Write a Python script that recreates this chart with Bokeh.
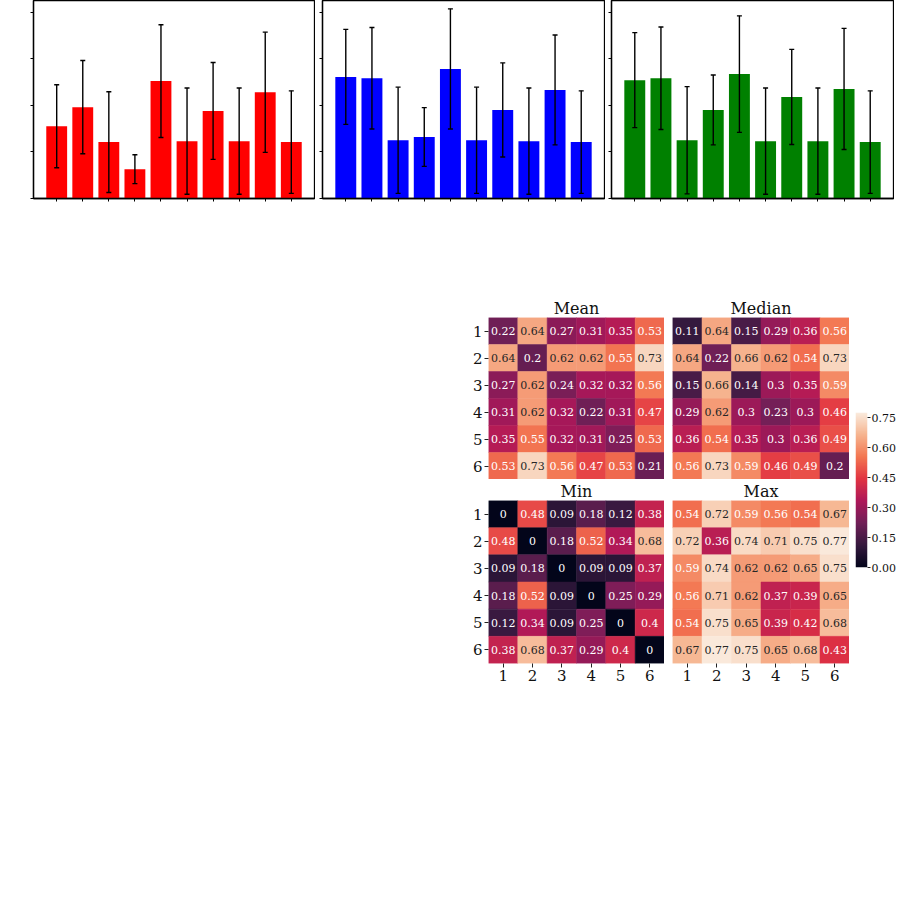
import numpy as np
from bokeh.plotting import figure
from bokeh.models import (Range1d, FactorRange, FixedTicker, Whisker, TeeHead,
                          ColumnDataSource, LinearColorMapper, Spacer,
                          NumeralTickFormatter, CustomJSTickFormatter)
from bokeh.layouts import row, column
from bokeh.embed import file_html
from bokeh.resources import INLINE
from bokeh.core.properties import value

# ---------------- data ----------------
bar_x = list(range(10))
red_mean = [1.55, 1.96, 1.21, 0.63, 2.52, 1.23, 1.88, 1.23, 2.28, 1.21]
red_std = [0.89, 1.00, 1.08, 0.31, 1.21, 1.14, 1.04, 1.14, 1.29, 1.10]
blue_mean = [2.61, 2.58, 1.25, 1.32, 2.78, 1.25, 1.90, 1.23, 2.33, 1.21]
blue_std = [1.02, 1.09, 1.14, 0.63, 1.29, 1.14, 1.01, 1.14, 1.18, 1.10]
green_mean = [2.54, 2.58, 1.25, 1.90, 2.67, 1.23, 2.18, 1.23, 2.35, 1.21]
green_std = [1.02, 1.10, 1.15, 0.75, 1.25, 1.14, 1.02, 1.14, 1.30, 1.10]
bar_yticks = [0, 1, 2, 3, 4]

hm_labels = ["1", "2", "3", "4", "5", "6"]
mean_m = [[0.22, 0.64, 0.27, 0.31, 0.35, 0.53],
          [0.64, 0.2, 0.62, 0.62, 0.55, 0.73],
          [0.27, 0.62, 0.24, 0.32, 0.32, 0.56],
          [0.31, 0.62, 0.32, 0.22, 0.31, 0.47],
          [0.35, 0.55, 0.32, 0.31, 0.25, 0.53],
          [0.53, 0.73, 0.56, 0.47, 0.53, 0.21]]
median_m = [[0.11, 0.64, 0.15, 0.29, 0.36, 0.56],
            [0.64, 0.22, 0.66, 0.62, 0.54, 0.73],
            [0.15, 0.66, 0.14, 0.3, 0.35, 0.59],
            [0.29, 0.62, 0.3, 0.23, 0.3, 0.46],
            [0.36, 0.54, 0.35, 0.3, 0.36, 0.49],
            [0.56, 0.73, 0.59, 0.46, 0.49, 0.2]]
min_m = [[0, 0.48, 0.09, 0.18, 0.12, 0.38],
         [0.48, 0, 0.18, 0.52, 0.34, 0.68],
         [0.09, 0.18, 0, 0.09, 0.09, 0.37],
         [0.18, 0.52, 0.09, 0, 0.25, 0.29],
         [0.12, 0.34, 0.09, 0.25, 0, 0.4],
         [0.38, 0.68, 0.37, 0.29, 0.4, 0]]
max_m = [[0.54, 0.72, 0.59, 0.56, 0.54, 0.67],
         [0.72, 0.36, 0.74, 0.71, 0.75, 0.77],
         [0.59, 0.74, 0.62, 0.62, 0.65, 0.75],
         [0.56, 0.71, 0.62, 0.37, 0.39, 0.65],
         [0.54, 0.75, 0.65, 0.39, 0.42, 0.68],
         [0.67, 0.77, 0.75, 0.65, 0.68, 0.43]]
cbar_ticks = [0.0, 0.15, 0.30, 0.45, 0.60, 0.75]
c_low, c_high = 0.0, 0.775

SERIF = "DejaVu Serif"

# ---------------- rocket palette ----------------
anchors = [(0.0, (3, 5, 26)), (1/7, (53, 25, 62)), (2/7, (112, 31, 87)),
           (3/7, (173, 23, 89)), (4/7, (225, 51, 66)), (5/7, (243, 118, 81)),
           (6/7, (246, 180, 143)), (1.0, (250, 235, 221))]
pal_rgb = []
for k in range(256):
    t = k / 255
    for a in range(len(anchors) - 1):
        t0, c0 = anchors[a]
        t1, c1 = anchors[a + 1]
        if t0 <= t <= t1:
            f = (t - t0) / (t1 - t0)
            pal_rgb.append(tuple(int(round(c0[i] + f * (c1[i] - c0[i]))) for i in range(3)))
            break
palette = ["#%02x%02x%02x" % c for c in pal_rgb]
mapper = LinearColorMapper(palette=palette, low=c_low, high=c_high)


def lum(rgb):
    out = []
    for c in rgb:
        c = c / 255
        out.append(c / 12.92 if c <= 0.03928 else ((c + 0.055) / 1.055) ** 2.4)
    return 0.2126 * out[0] + 0.7152 * out[1] + 0.0722 * out[2]


def text_color(v):
    idx = int((v - c_low) / (c_high - c_low) * 256)
    idx = max(0, min(255, idx))
    return "#262626" if lum(pal_rgb[idx]) > 0.408 else "#ffffff"


blank = CustomJSTickFormatter(code="return ''")


# ---------------- bar charts ----------------
def bar_chart(means, stds, color, left, right, fw):
    p = figure(frame_width=fw, frame_height=198,
               x_range=Range1d(-0.89, 9.89), y_range=Range1d(0, 4.249),
               output_backend="svg", toolbar_location=None,
               min_border_left=left, min_border_right=right,
               min_border_top=0, min_border_bottom=10)
    src = ColumnDataSource(dict(x=bar_x, top=means,
                                upper=[m + s for m, s in zip(means, stds)],
                                lower=[m - s for m, s in zip(means, stds)]))
    p.vbar(x="x", top="top", width=0.8, fill_color=color, line_color=None, source=src)
    w = Whisker(source=src, base="x", upper="upper", lower="lower",
                line_color="black", line_width=1.4, level="overlay",
                upper_head=TeeHead(size=5, line_width=1.4, line_color="black"),
                lower_head=TeeHead(size=5, line_width=1.4, line_color="black"))
    p.add_layout(w)
    p.xaxis.ticker = FixedTicker(ticks=bar_x)
    p.yaxis.ticker = FixedTicker(ticks=bar_yticks)
    for ax in (p.xaxis, p.yaxis):
        ax.formatter = blank
        ax.major_label_standoff = 0
        ax.major_tick_out = 3
        ax.major_tick_in = 0
        ax.minor_tick_out = 0
        ax.minor_tick_in = 0
        ax.major_tick_line_color = "black"
        ax.axis_line_color = "black"
        ax.axis_line_width = 1.3
    p.grid.visible = False
    p.outline_line_color = "black"
    p.outline_line_width = 1.3
    p.outline_line_alpha = 1.0
    return p


b1 = bar_chart(red_mean, red_std, "#ff0000", 33, 1, 281)
b2 = bar_chart(blue_mean, blue_std, "#0000ff", 7, 1, 282)
b3 = bar_chart(green_mean, green_std, "#008000", 6, 1, 282)


# ---------------- heatmaps ----------------
def heatmap(mat, title, show_x, show_y, left, right, top, bottom, fw, fh):
    xs, ys, vs, labs, tcs = [], [], [], [], []
    for i, r in enumerate(hm_labels):
        for j, c in enumerate(hm_labels):
            v = mat[i][j]
            xs.append(c)
            ys.append(r)
            vs.append(v)
            labs.append(f"{v:g}")
            tcs.append(text_color(v))
    src = ColumnDataSource(dict(x=xs, y=ys, v=vs, lab=labs, tc=tcs))
    p = figure(x_range=FactorRange(factors=hm_labels),
               y_range=FactorRange(factors=list(reversed(hm_labels))),
               frame_width=fw, frame_height=fh,
               min_border_left=left, min_border_right=right,
               min_border_top=top, min_border_bottom=bottom,
               output_backend="svg", toolbar_location=None, title=title)
    p.rect(x="x", y="y", width=1, height=1, source=src,
           fill_color={"field": "v", "transform": mapper},
           line_color={"field": "v", "transform": mapper}, line_width=0.5)
    p.text(x="x", y="y", text="lab", source=src, text_color={"field": "tc"},
           text_align="center", text_baseline="middle",
           text_font=value(SERIF), text_font_size=value("11px"))
    p.title.text_font = SERIF
    p.title.text_font_style = "normal"
    p.title.text_font_size = "16px"
    p.title.text_color = "#111111"
    p.title.align = "center"
    p.title.standoff = 0
    p.grid.visible = False
    p.outline_line_color = None
    for ax in (p.xaxis, p.yaxis):
        ax.axis_line_color = None
        ax.major_tick_out = 4
        ax.major_tick_in = 0
        ax.major_tick_line_color = "#222222"
        ax.major_label_text_font = SERIF
        ax.major_label_text_font_size = "15px"
        ax.major_label_text_color = "#111111"
        ax.major_label_standoff = 2
    p.xaxis.visible = show_x
    p.yaxis.visible = show_y
    return p


h_mean = heatmap(mean_m, "Mean", False, True, 30, 0, 21, 0, 176, 162)
h_median = heatmap(median_m, "Median", False, False, 8, 0, 21, 0, 177, 162)
h_min = heatmap(min_m, "Min", True, True, 30, 0, 20, 30, 176, 163)
h_max = heatmap(max_m, "Max", True, False, 8, 0, 20, 30, 177, 163)

# ---------------- colorbar ----------------
cb = figure(x_range=Range1d(0, 1), y_range=Range1d(c_low, c_high),
            frame_width=12, frame_height=155, y_axis_location="right",
            min_border_left=6, min_border_right=34, min_border_top=116,
            min_border_bottom=12, output_backend="svg", toolbar_location=None)
grad = np.linspace(c_low, c_high, 256).reshape(256, 1)
cb.image(image=[grad], x=0, y=c_low, dw=1, dh=c_high - c_low, color_mapper=mapper)
cb.xaxis.visible = False
cb.grid.visible = False
cb.outline_line_color = None
cb.yaxis.ticker = FixedTicker(ticks=cbar_ticks)
cb.yaxis.formatter = NumeralTickFormatter(format="0.00")
cb.yaxis.axis_line_color = None
cb.yaxis.major_tick_out = 3
cb.yaxis.major_tick_in = 0
cb.yaxis.minor_tick_out = 0
cb.yaxis.minor_tick_in = 0
cb.yaxis.major_tick_line_color = "#222222"
cb.yaxis.major_label_text_font = SERIF
cb.yaxis.major_label_text_font_size = "11px"
cb.yaxis.major_label_text_color = "#111111"
cb.yaxis.major_label_standoff = 1

top_row = row(b1, b2, b3)
left_col = column(h_mean, h_min)
right_col = column(h_median, h_max)
bottom_row = row(Spacer(width=458, height=10), left_col, right_col, cb)
layout = column(top_row, Spacer(width=10, height=88), bottom_row)

open("out.html", "w").write(file_html(layout, INLINE))
